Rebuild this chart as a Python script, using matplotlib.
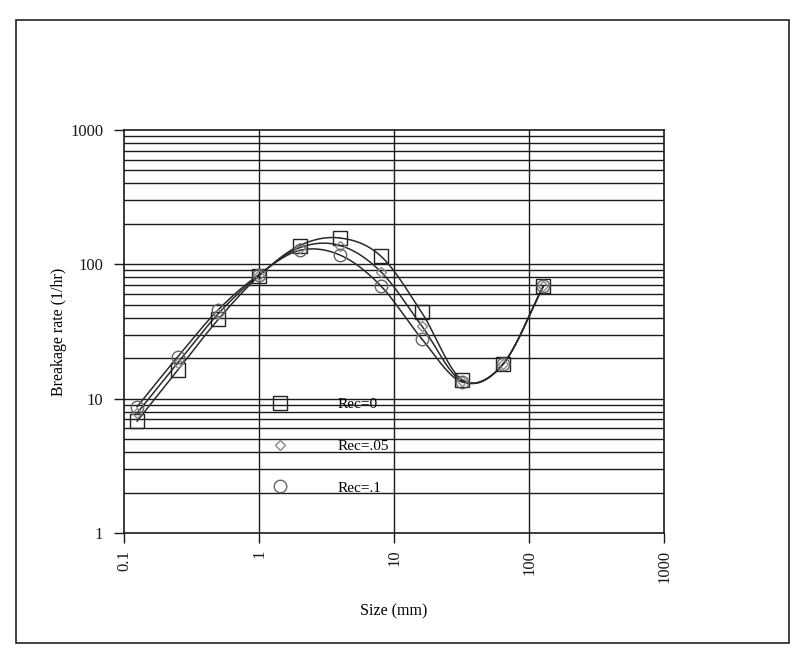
import numpy as np
import matplotlib
matplotlib.use("Agg")
import matplotlib.pyplot as plt
from matplotlib.lines import Line2D
from matplotlib.patches import Rectangle
from matplotlib.ticker import FixedLocator, NullLocator

plt.rcParams['font.family'] = ['Liberation Serif', 'DejaVu Serif']

# Data
size_mm = [0.125, 0.25, 0.5, 1, 2, 4, 8, 16, 32, 64, 128]
rec_0 = [6.8, 16.3, 39, 82, 138, 157, 115, 44, 13.8, 18, 69]
rec_05 = [7.8, 18.5, 43, 83, 133, 138, 88, 35, 13.5, 18, 69]
rec_1 = [8.7, 20.5, 46, 84, 127, 117, 69, 28, 13.3, 18, 69]
series_labels = ["Rec=0", "Rec=.05", "Rec=.1"]
x_ticks = [0.1, 1, 10, 100, 1000]
y_ticks = [1, 10, 100, 1000]


def smooth(xs, ys, n=30):
    # Catmull-Rom spline in log-log space (like spreadsheet smoothed lines)
    lx = np.log10(np.asarray(xs, float))
    ly = np.log10(np.asarray(ys, float))
    P = np.column_stack([lx, ly])
    P = np.vstack([2 * P[0] - P[1], P, 2 * P[-1] - P[-2]])
    out = []
    t = np.linspace(0, 1, n)[:, None]
    for i in range(1, len(P) - 2):
        p0, p1, p2, p3 = P[i - 1], P[i], P[i + 1], P[i + 2]
        seg = 0.5 * ((2 * p1) + (-p0 + p2) * t + (2 * p0 - 5 * p1 + 4 * p2 - p3) * t ** 2
                     + (-p0 + 3 * p1 - 3 * p2 + p3) * t ** 3)
        out.append(seg)
    S = np.vstack(out)
    return 10 ** S[:, 0], 10 ** S[:, 1]


fig = plt.figure(figsize=(8.02, 6.54), dpi=100)
fig.patches.append(Rectangle((16 / 802, 1 - 643 / 654), (789 - 16) / 802, (643 - 20) / 654,
                             transform=fig.transFigure, fill=False, edgecolor='#222222',
                             linewidth=1.2))
ax = fig.add_axes([124 / 802, 1 - 533 / 654, 540 / 802, 403 / 654])
ax.set_xscale('log')
ax.set_yscale('log')
ax.set_xlim(0.1, 1000)
ax.set_ylim(1, 1000)

# grid: horizontal at every minor, vertical at decades
for dec in [1, 10, 100]:
    for m in range(1, 10):
        v = dec * m
        if 1 < v < 1000:
            ax.axhline(v, color='#1a1a1a', lw=1.0, zorder=1)
for xv in [1, 10, 100]:
    ax.axvline(xv, color='#1a1a1a', lw=1.0, zorder=1)

series = [rec_0, rec_05, rec_1]
markers = [dict(marker='s', ms=10, mfc='none', mec='#222222', mew=1.0),
           dict(marker='D', ms=5.5, mfc='none', mec='#888888', mew=1.0),
           dict(marker='o', ms=9, mfc='none', mec='#666666', mew=1.0)]
handles = []
for ys, mk, lab in zip(series, markers, series_labels):
    sx, sy = smooth(size_mm, ys)
    ax.plot(sx, sy, color='#2a2a2a', lw=1.1, zorder=3)
    ax.plot(size_mm, ys, linestyle='none', zorder=4, **mk)
    handles.append(Line2D([], [], linestyle='none', label=lab, **mk))

for s in ax.spines.values():
    s.set_color('#1a1a1a')
    s.set_linewidth(1.2)

ax.xaxis.set_major_locator(FixedLocator(x_ticks))
ax.yaxis.set_major_locator(FixedLocator(y_ticks))
ax.xaxis.set_minor_locator(NullLocator())
ax.yaxis.set_minor_locator(NullLocator())
ax.set_xticklabels([str(v) for v in x_ticks], rotation=90)
ax.set_yticklabels([str(v) for v in y_ticks])
ax.tick_params(axis='both', direction='out', length=7, width=1, colors='#1a1a1a',
               labelsize=12)
ax.tick_params(axis='y', pad=8)
ax.tick_params(axis='x', pad=5)

ax.set_xlabel("Size (mm)", fontsize=11.5, labelpad=15)
ax.set_ylabel("Breakage rate (1/hr)", fontsize=11.5, labelpad=2)

leg = ax.legend(handles=handles, loc='upper left', bbox_to_anchor=(0.246, 0.355),
                frameon=False, fontsize=11, handlelength=2, handletextpad=2.8,
                labelspacing=1.83, borderpad=0)
leg.set_zorder(5)

fig.savefig("out.png", dpi=100)
